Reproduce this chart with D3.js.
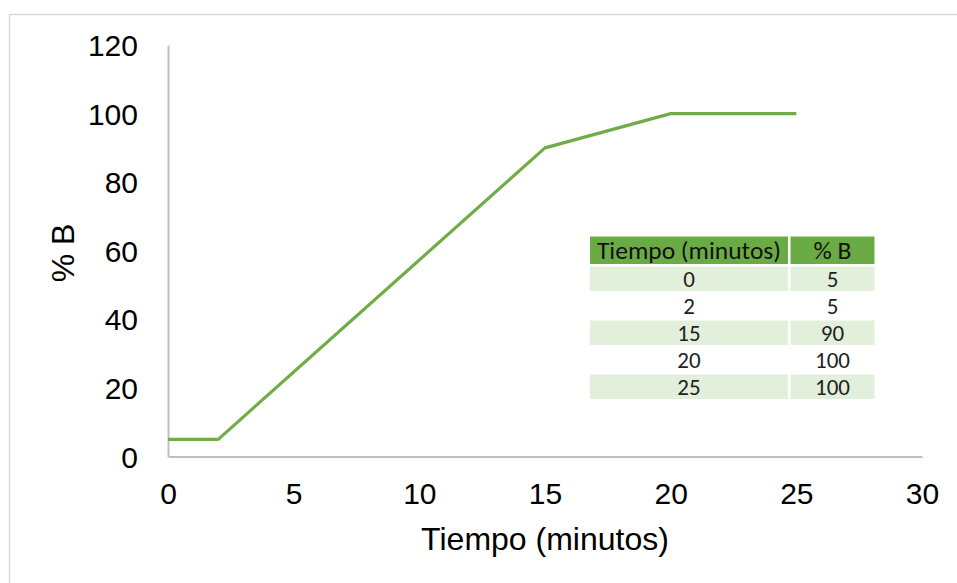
<!DOCTYPE html>
<html>
<head>
<meta charset="utf-8">
<script src="https://cdn.jsdelivr.net/npm/d3@7"></script>
<style>
  html, body { margin: 0; padding: 0; background: #fff; }
  svg { display: block; }
</style>
</head>
<body>
<svg id="chart" width="957" height="583"></svg>
<script>
// Gradient program: time (minutes) vs % of solvent B
const tiempo = [0, 2, 15, 20, 25];
const pctB = [5, 5, 90, 100, 100];
const xTicks = [0, 5, 10, 15, 20, 25, 30];
const yTicks = [0, 20, 40, 60, 80, 100, 120];
const tableHeaders = ["Tiempo (minutos)", "% B"];
const xTitle = "Tiempo (minutos)";
const yTitle = "% B";

const svg = d3.select("#chart");

const axisFont = "'Liberation Sans', Arial, sans-serif";
const tableFont = "Carlito, Lato, 'Open Sans', sans-serif";
const green = "#70ad47";

// Chart frame
svg.append("rect")
  .attr("x", 9.5).attr("y", 14.5)
  .attr("width", 1200).attr("height", 1200)
  .attr("fill", "none")
  .attr("stroke", "#d9d9d9")
  .attr("stroke-width", 1.5);

const plot = { left: 168, right: 922, top: 45, bottom: 456.5 };

const x = d3.scaleLinear().domain([0, 30]).range([plot.left, plot.right]);
const y = d3.scaleLinear().domain([0, 120]).range([plot.bottom, plot.top]);

// Axes (lines only, no tick marks)
const xAxis = svg.append("g")
  .attr("transform", `translate(0,${plot.bottom})`)
  .call(d3.axisBottom(x).tickValues(xTicks).tickSize(0).tickPadding(26).tickFormat(d3.format("d")));
const yAxis = svg.append("g")
  .attr("transform", `translate(${plot.left},0)`)
  .call(d3.axisLeft(y).tickValues(yTicks).tickSize(0).tickPadding(30).tickFormat(d3.format("d")));

[xAxis, yAxis].forEach(g => {
  g.select(".domain").attr("stroke", "#bfbfbf").attr("stroke-width", 2);
  g.selectAll("text")
    .attr("font-family", axisFont)
    .attr("font-size", 30)
    .attr("fill", "#000");
});
xAxis.selectAll("text").attr("dy", "0.71em");
yAxis.selectAll("text").attr("dy", "0.35em");

// Gradient line
const line = d3.line().x((d, i) => x(tiempo[i])).y(d => y(d));
svg.append("path")
  .datum(pctB)
  .attr("d", line)
  .attr("fill", "none")
  .attr("stroke", green)
  .attr("stroke-width", 3.2)
  .attr("stroke-linejoin", "round");

// Axis titles
svg.append("text")
  .attr("x", (plot.left + plot.right) / 2)
  .attr("y", 550)
  .attr("text-anchor", "middle")
  .attr("font-family", axisFont)
  .attr("font-size", 32)
  .attr("fill", "#000")
  .text(xTitle);

svg.append("text")
  .attr("transform", `translate(74,253) rotate(-90)`)
  .attr("text-anchor", "middle")
  .attr("font-family", axisFont)
  .attr("font-size", 32)
  .attr("fill", "#000")
  .text(yTitle);

// Gradient table
const tbl = { x: 590, y: 236.5, colW: [198, 84], gap: 2.5, headH: 27.5, rowH: 27 };
const colX = [tbl.x, tbl.x + tbl.colW[0] + tbl.gap];
const tableG = svg.append("g");

tableHeaders.forEach((h, c) => {
  tableG.append("rect")
    .attr("x", colX[c]).attr("y", tbl.y)
    .attr("width", tbl.colW[c]).attr("height", tbl.headH)
    .attr("fill", "#6aab45");
  tableG.append("text")
    .attr("x", colX[c] + tbl.colW[c] / 2)
    .attr("y", tbl.y + tbl.headH / 2)
    .attr("dy", "0.36em")
    .attr("text-anchor", "middle")
    .attr("font-family", tableFont)
    .attr("font-size", 25.5)
    .attr("fill", "#111")
    .text(h);
});

tiempo.forEach((t, r) => {
  const ry = tbl.y + tbl.headH + tbl.gap + r * tbl.rowH;
  [t, pctB[r]].forEach((v, c) => {
    tableG.append("rect")
      .attr("x", colX[c]).attr("y", ry)
      .attr("width", tbl.colW[c]).attr("height", tbl.rowH - tbl.gap)
      .attr("fill", r % 2 === 0 ? "#e2efda" : "#ffffff");
    tableG.append("text")
      .attr("x", colX[c] + tbl.colW[c] / 2)
      .attr("y", ry + (tbl.rowH - tbl.gap) / 2)
      .attr("dy", "0.36em")
      .attr("text-anchor", "middle")
      .attr("font-family", tableFont)
      .attr("font-size", 23)
      .attr("fill", "#222")
      .text(v);
  });
});
</script>
</body>
</html>
